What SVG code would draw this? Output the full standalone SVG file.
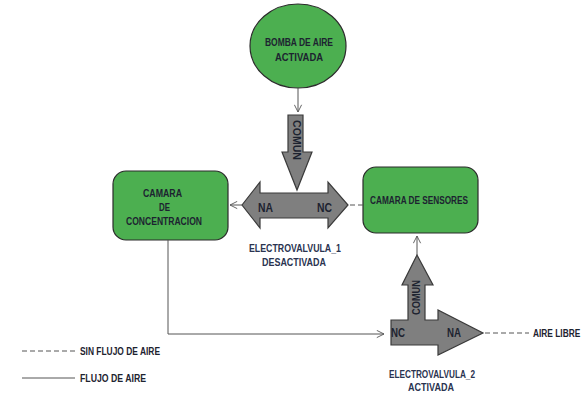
<svg xmlns="http://www.w3.org/2000/svg" width="585" height="393" viewBox="0 0 585 393">
<style>
text{font-family:"Liberation Sans",Arial,sans-serif;font-weight:bold;font-size:11px;fill:#1d2330}
.node{fill:#4caf50;stroke:#2b2b2b;stroke-width:1.2}
.valve{fill:#7f7f7f;stroke:#3a3a3a;stroke-width:1.2}
.ln{fill:none;stroke:#555;stroke-width:1}
.dash{fill:none;stroke:#555;stroke-width:1;stroke-dasharray:5 3}
.lbl{fill:#2a3350}
.big{font-size:12.5px}
</style>
<defs>
<marker id="open" viewBox="0 0 10 10" refX="9" refY="5" markerWidth="9" markerHeight="9" orient="auto" markerUnits="userSpaceOnUse">
<path d="M1,1 L9,5 L1,9" fill="none" stroke="#555" stroke-width="1"/>
</marker>
</defs>
<g id="bomba">
<ellipse class="node" cx="298" cy="46" rx="48" ry="42"/>
<text x="265" y="46" textLength="68" lengthAdjust="spacingAndGlyphs">BOMBA DE AIRE</text>
<text x="275" y="61" textLength="48" lengthAdjust="spacingAndGlyphs">ACTIVADA</text>
</g>
<g id="camara-concentracion">
<rect class="node" x="113" y="171" width="115" height="69" rx="13"/>
<text x="143" y="197" textLength="39" lengthAdjust="spacingAndGlyphs">CAMARA</text>
<text x="159" y="211" textLength="11" lengthAdjust="spacingAndGlyphs">DE</text>
<text x="126" y="225" textLength="76" lengthAdjust="spacingAndGlyphs">CONCENTRACION</text>
</g>
<g id="camara-sensores">
<rect class="node" x="363" y="167" width="115" height="66" rx="13"/>
<text x="370" y="204" textLength="98" lengthAdjust="spacingAndGlyphs">CAMARA DE SENSORES</text>
</g>
<g id="electrovalvula1">
<polygon class="valve" points="288,115 303,115 303,152 312,152 297,190 282,152 288,152"/>
<text transform="translate(293,120) rotate(90)" textLength="40" lengthAdjust="spacingAndGlyphs">COMUN</text>
<polygon class="valve" points="242,205 260,182 260,193 328,193 328,182 348,205 328,228 328,218 260,218 260,228"/>
<text class="big" x="258" y="212" textLength="15" lengthAdjust="spacingAndGlyphs">NA</text>
<text class="big" x="317" y="212" textLength="15" lengthAdjust="spacingAndGlyphs">NC</text>
<text class="lbl" x="249" y="252" textLength="92" lengthAdjust="spacingAndGlyphs">ELECTROVALVULA_1</text>
<text class="lbl" x="262" y="266" textLength="64" lengthAdjust="spacingAndGlyphs">DESACTIVADA</text>
</g>
<g id="electrovalvula2">
<polygon class="valve" points="417,255 433,285 425,285 425,320 438,320 438,310 483,333 438,355 438,345 391,345 391,320 408,320 408,285 402,285"/>
<text transform="translate(420,315) rotate(-90)" textLength="35" lengthAdjust="spacingAndGlyphs">COMUN</text>
<text class="big" x="391" y="337" textLength="14" lengthAdjust="spacingAndGlyphs">NC</text>
<text class="big" x="447" y="337" textLength="14" lengthAdjust="spacingAndGlyphs">NA</text>
<text class="lbl" x="389" y="378" textLength="86" lengthAdjust="spacingAndGlyphs">ELECTROVALVULA_2</text>
<text class="lbl" x="408" y="391" textLength="46" lengthAdjust="spacingAndGlyphs">ACTIVADA</text>
</g>
<g id="connectors">
<line class="ln" x1="298" y1="88" x2="298" y2="112" marker-end="url(#open)"/>
<line class="ln" x1="242" y1="205" x2="230" y2="205" marker-end="url(#open)"/>
<line class="dash" x1="363" y1="205" x2="349" y2="205"/>
<line class="ln" x1="417" y1="255" x2="417" y2="236" marker-end="url(#open)"/>
<polyline class="ln" points="168,240 168,334 384,334" marker-end="url(#open)"/>
<line class="dash" x1="485" y1="333" x2="529" y2="333"/>
</g>
<g id="aire-libre">
<text transform="translate(533,337) scale(0.76,1)">AIRE LIBRE</text>
</g>
<g id="legend">
<line class="dash" x1="22" y1="351" x2="75" y2="351"/>
<text x="80" y="355" textLength="80" lengthAdjust="spacingAndGlyphs">SIN FLUJO DE AIRE</text>
<line class="ln" x1="22" y1="378" x2="75" y2="378"/>
<text x="80" y="382" textLength="66" lengthAdjust="spacingAndGlyphs">FLUJO DE AIRE</text>
</g>
</svg>
